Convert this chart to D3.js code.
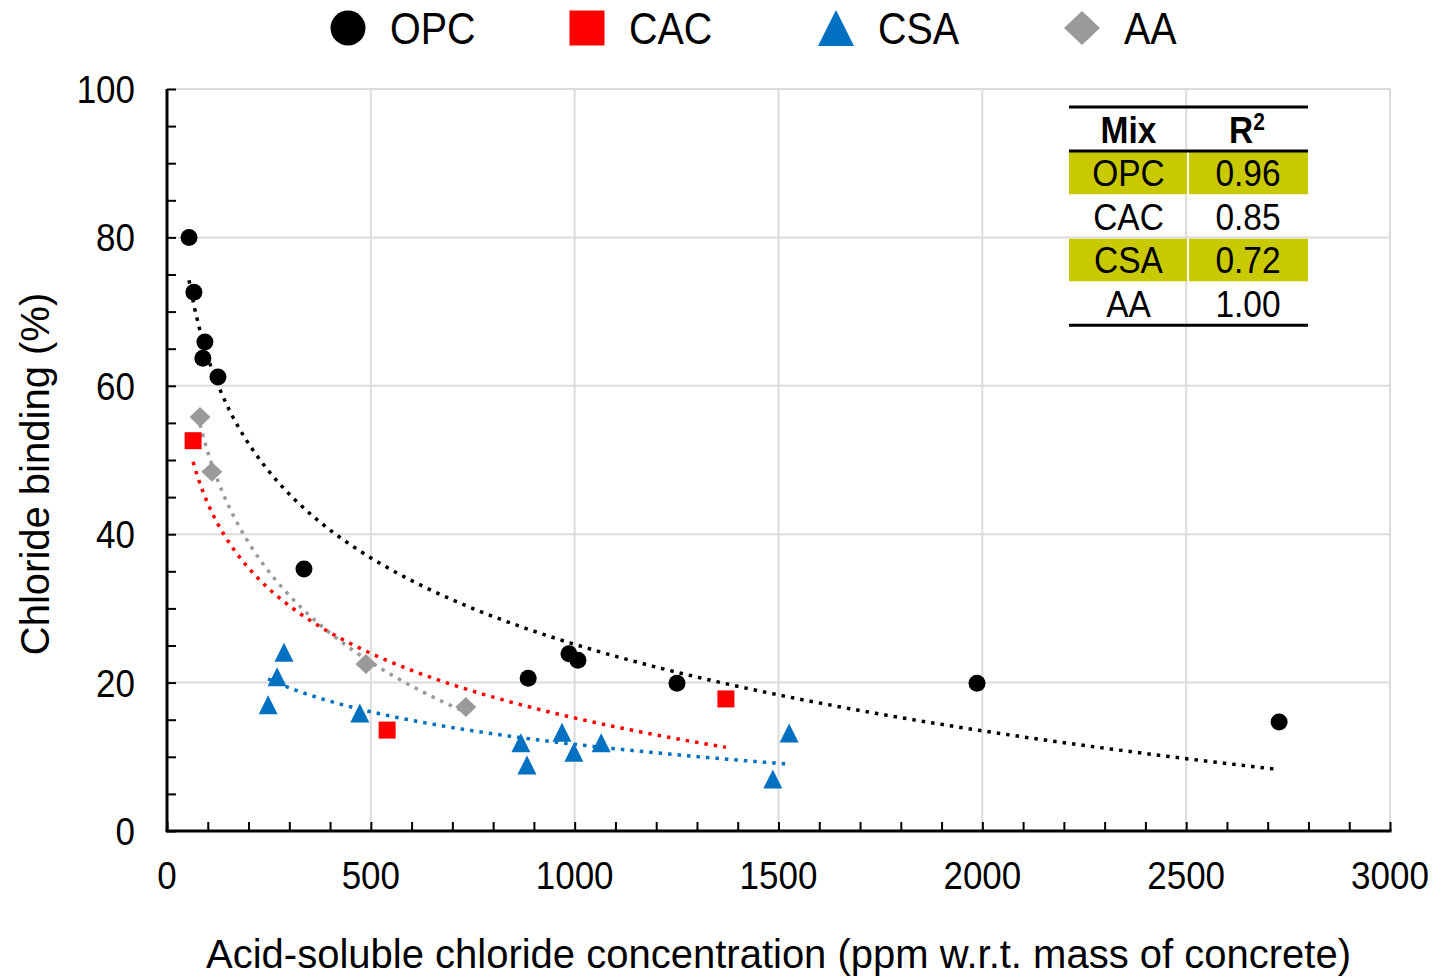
<!DOCTYPE html>
<html>
<head>
<meta charset="utf-8">
<script src="https://cdn.jsdelivr.net/npm/d3@7"></script>
<style>
  html, body { margin: 0; padding: 0; background: #fff; }
  svg { display: block; font-family: "Liberation Sans", Arial, sans-serif; }
</style>
</head>
<body>
<svg id="chart" width="1442" height="979"></svg>
<script>
// ---- data ----
const seriesNames = ["OPC", "CAC", "CSA", "AA"];

const opcX = [54, 66, 88, 93, 125, 336, 886, 986, 1008, 1251, 1987, 2728];
const opcY = [80.0, 72.6, 63.7, 65.9, 61.2, 35.3, 20.6, 23.9, 23.0, 19.9, 19.9, 14.7];

const cacX = [64, 540, 1371];
const cacY = [52.6, 13.6, 17.8];

const csaX = [287, 270, 248, 473, 868, 883, 969, 998, 1065, 1486, 1526];
const csaY = [24.1, 20.8, 17.0, 15.9, 11.9, 8.9, 13.3, 10.6, 11.9, 7.0, 13.2];

const aaX = [81, 110, 488, 733];
const aaY = [55.8, 48.4, 22.5, 16.7];

const xTicks = [0, 500, 1000, 1500, 2000, 2500, 3000];
const yTicks = [0, 20, 40, 60, 80, 100];

const tableMix = ["OPC", "CAC", "CSA", "AA"];
const tableR2 = ["0.96", "0.85", "0.72", "1.00"];
const tableHighlight = [true, false, true, false];

// ---- styling ----
const colors = { OPC: "#000000", CAC: "#ff0000", CSA: "#0070c0", AA: "#9a9a9a" };
const TEXT_STRETCH = 1.12;

const svg = d3.select("#chart");
const x = d3.scaleLinear().domain([0, 3000]).range([167, 1390]);
const y = d3.scaleLinear().domain([0, 100]).range([831, 89]);

function label(g, tx, ty, str, size, anchor, weight, rotate, stretch) {
  const s = stretch === undefined ? TEXT_STRETCH : stretch;
  const t = g.append("text")
    .attr("transform", `translate(${tx},${ty}) scale(1,${s})` + (rotate ? ` rotate(${rotate})` : ""))
    .attr("font-size", size)
    .attr("text-anchor", anchor || "start")
    .attr("font-weight", weight || "normal")
    .attr("fill", "#000");
  return t.text(str);
}

// ---- gridlines ----
const grid = svg.append("g");
grid.selectAll(".gx").data(xTicks.filter(d => d > 0)).join("line")
  .attr("x1", d => x(d)).attr("x2", d => x(d))
  .attr("y1", y(0)).attr("y2", y(100))
  .attr("stroke", "#dcdcdc").attr("stroke-width", 2);
grid.selectAll(".gy").data(yTicks.filter(d => d > 0)).join("line")
  .attr("x1", x(0)).attr("x2", x(3000))
  .attr("y1", d => y(d)).attr("y2", d => y(d))
  .attr("stroke", "#dcdcdc").attr("stroke-width", 2);

// ---- axes (ticks point inward) ----
const xAxis = d3.axisTop(x).tickValues(d3.range(0, 3001, 100)).tickSize(9).tickFormat("");
const xg = svg.append("g").attr("transform", `translate(0,${y(0)})`).call(xAxis);
const yAxis = d3.axisRight(y).tickValues(d3.range(0, 101, 5)).tickSize(9).tickFormat("");
const yg = svg.append("g").attr("transform", `translate(${x(0)},0)`).call(yAxis);
[xg, yg].forEach(g => {
  g.select(".domain").attr("stroke", "#000").attr("stroke-width", 3);
  g.selectAll(".tick line").attr("stroke", "#000").attr("stroke-width", 2);
});
xg.select(".domain").attr("d", `M${x(0) - 1.5},0H${x(3000) + 1.5}`);
yg.select(".domain").attr("d", `M0,${y(0)}V${y(100)}`);

// tick labels
const labels = svg.append("g");
xTicks.forEach(v => label(labels, x(v), 889, String(v), 35, "middle"));
yTicks.forEach(v => label(labels, 135, y(v) + 14, String(v), 35, "end"));

// axis titles
label(labels, (x(0) + x(3000)) / 2, 968,
  "Acid-soluble chloride concentration (ppm w.r.t. mass of concrete)", 40, "middle", "normal", 0, 1);
label(labels, 49, 474, "Chloride binding (%)", 40, "middle", "normal", -90, 1);

// ---- logarithmic trendlines: y = a ln(x) + b (least squares) ----
function logFit(xs, ys) {
  const lx = xs.map(Math.log);
  const mx = d3.mean(lx), my = d3.mean(ys);
  let sxy = 0, sxx = 0;
  lx.forEach((v, i) => { sxy += (v - mx) * (ys[i] - my); sxx += (v - mx) * (v - mx); });
  const a = sxy / sxx;
  return { a, b: my - a * mx };
}

const series = [
  { name: "OPC", xs: opcX, ys: opcY },
  { name: "CAC", xs: cacX, ys: cacY },
  { name: "CSA", xs: csaX, ys: csaY },
  { name: "AA", xs: aaX, ys: aaY }
];

const trend = svg.append("g");
series.forEach(s => {
  const fit = logFit(s.xs, s.ys);
  const [lo, hi] = d3.extent(s.xs);
  const pts = d3.range(0, 201).map(i => {
    const xv = lo + (hi - lo) * i / 200;
    return [xv, fit.a * Math.log(xv) + fit.b];
  });
  trend.append("path")
    .attr("d", d3.line().x(d => x(d[0])).y(d => y(d[1]))(pts))
    .attr("fill", "none")
    .attr("stroke", colors[s.name])
    .attr("stroke-width", 3.5)
    .attr("stroke-dasharray", "3.5 6");
});

// ---- markers ----
function marker(g, name, cx, cy, size) {
  const c = colors[name];
  const h = size / 2;
  if (name === "OPC") {
    g.append("circle").attr("cx", cx).attr("cy", cy).attr("r", h).attr("fill", c);
  } else if (name === "CAC") {
    g.append("rect").attr("x", cx - h).attr("y", cy - h).attr("width", size).attr("height", size).attr("fill", c);
  } else if (name === "CSA") {
    g.append("path").attr("d", `M${cx},${cy - h}L${cx + h},${cy + h}L${cx - h},${cy + h}Z`).attr("fill", c);
  } else {
    g.append("path").attr("d", `M${cx},${cy - h * 0.95}L${cx + h},${cy}L${cx},${cy + h * 0.95}L${cx - h},${cy}Z`).attr("fill", c);
  }
}

const markerSize = { OPC: 17, CAC: 17, CSA: 19, AA: 21 };
const marks = svg.append("g");
series.forEach(s => {
  s.xs.forEach((xv, i) => marker(marks, s.name, x(xv), y(s.ys[i]), markerSize[s.name]));
});

// ---- legend ----
const legend = svg.append("g");
const legendX = [348, 587, 836, 1082];
const legendSize = { OPC: 35, CAC: 35, CSA: 36, AA: 36 };
seriesNames.forEach((n, i) => {
  marker(legend, n, legendX[i], 28, legendSize[n]);
  label(legend, legendX[i] + 42, 44, n, 39.5, "start");
});

// ---- R² table ----
const table = svg.append("g");
const tLeft = 1069, tRight = 1308, tMid = 1188;
const rowH = 43.5, headerY = 130, firstRowY = 173;
tableMix.forEach((m, i) => {
  const cy = firstRowY + i * rowH;
  if (tableHighlight[i]) {
    table.append("rect").attr("x", tLeft).attr("y", cy - rowH / 2 + 0.5)
      .attr("width", tMid - 1 - tLeft).attr("height", rowH - 1).attr("fill", "#c9c900");
    table.append("rect").attr("x", tMid + 1).attr("y", cy - rowH / 2 + 0.5)
      .attr("width", tRight - tMid - 1).attr("height", rowH - 1).attr("fill", "#c9c900");
  }
  label(table, (tLeft + tMid) / 2, cy + 13, m, 33.5, "middle");
  label(table, (tMid + tRight) / 2, cy + 13, tableR2[i], 33.5, "middle");
});
label(table, (tLeft + tMid) / 2, headerY + 13, "Mix", 33.5, "middle", "bold");
const r2 = label(table, (tMid + tRight) / 2 - 1, headerY + 13, "R", 33.5, "middle", "bold");
r2.append("tspan").attr("font-size", 21).attr("dy", -12).text("2");
[107, 151, firstRowY + 3.5 * rowH].forEach(ly => {
  table.append("line").attr("x1", tLeft).attr("x2", tRight).attr("y1", ly).attr("y2", ly)
    .attr("stroke", "#000").attr("stroke-width", 3);
});
</script>
</body>
</html>
